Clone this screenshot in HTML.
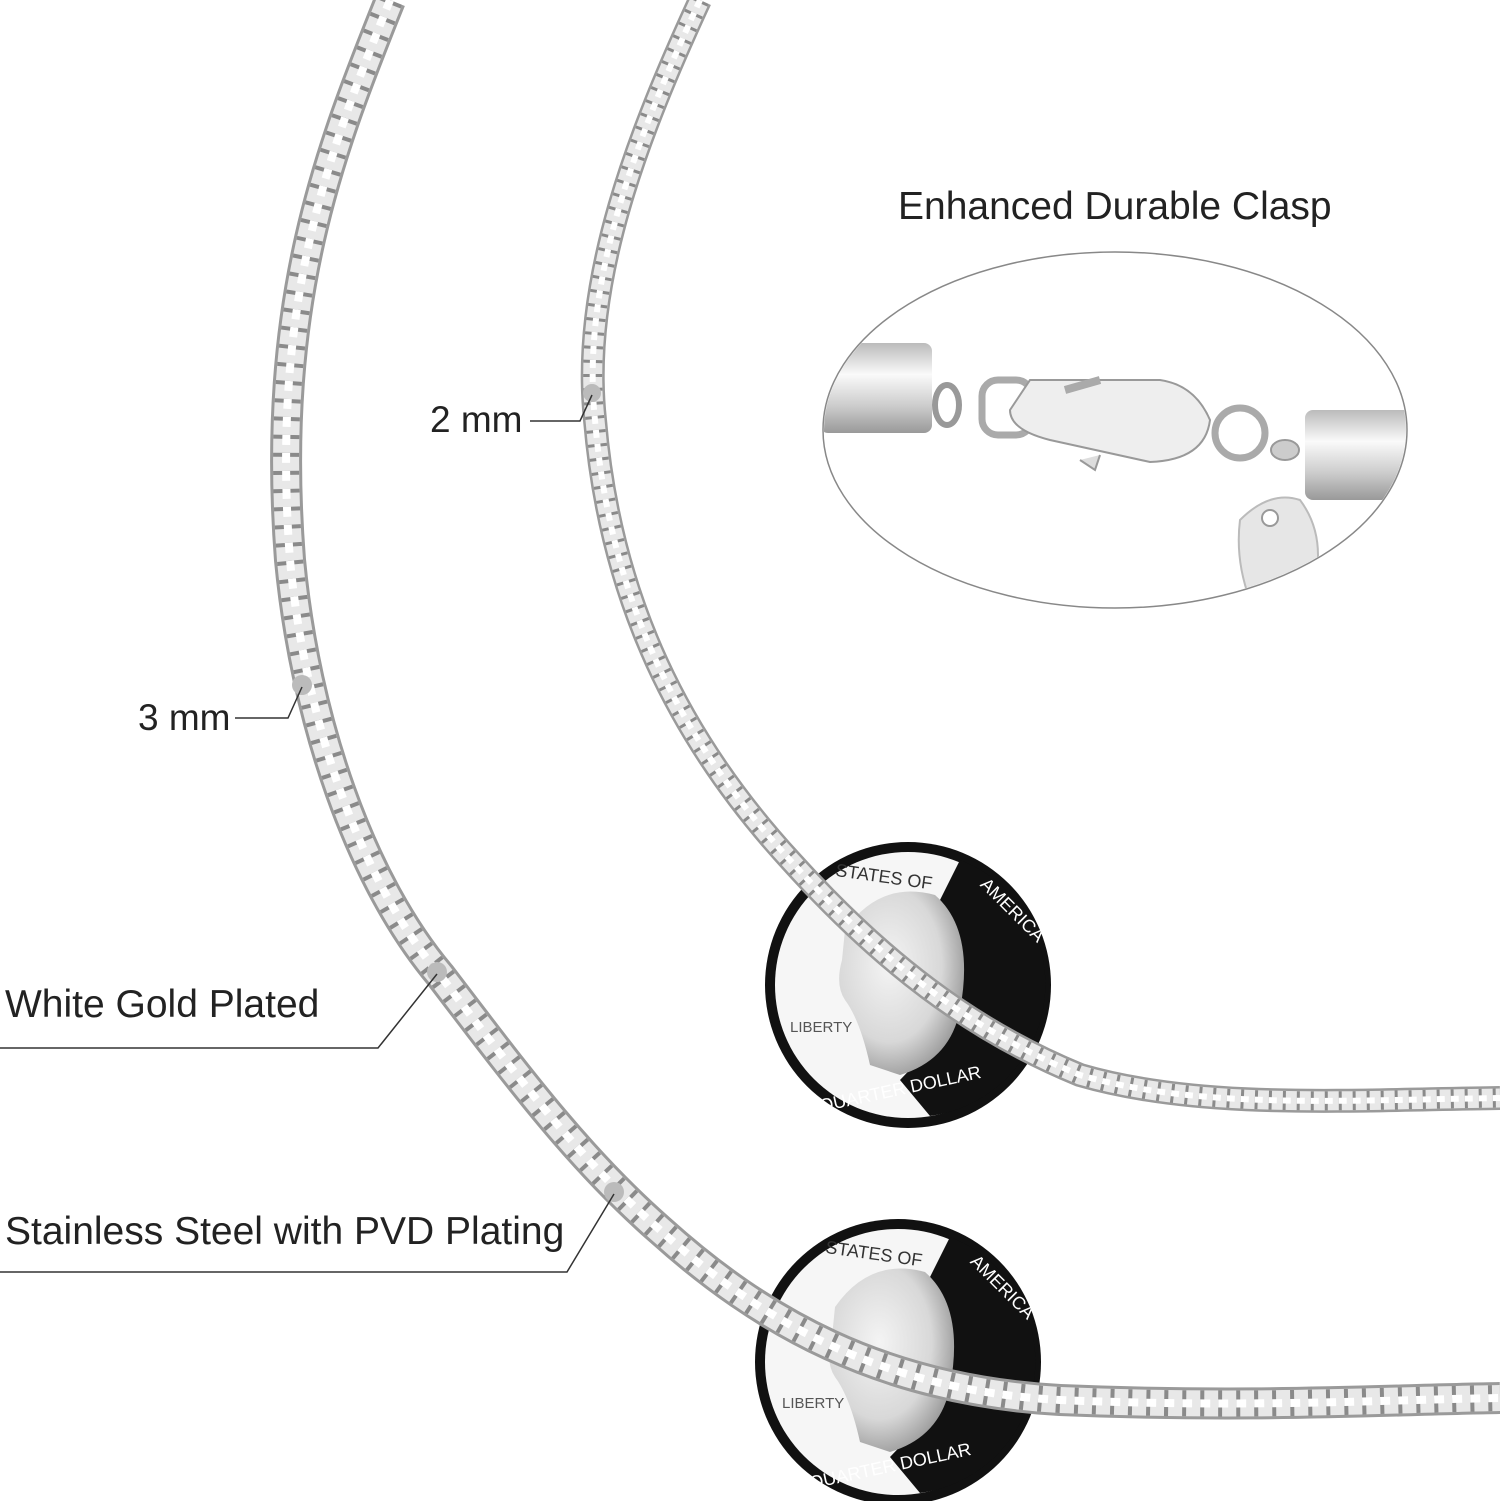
<!DOCTYPE html>
<html><head><meta charset="utf-8"><style>
html,body{margin:0;padding:0;background:#fff;}
svg{display:block;}
text{font-family:"Liberation Sans",sans-serif;fill:#222;}
</style></head><body>
<svg width="1500" height="1501" viewBox="0 0 1500 1501" xmlns="http://www.w3.org/2000/svg">
<defs>
<linearGradient id="cap" x1="0" y1="0" x2="0" y2="1">
<stop offset="0" stop-color="#bbb"/><stop offset="0.35" stop-color="#fafafa"/><stop offset="0.7" stop-color="#ccc"/><stop offset="1" stop-color="#999"/>
</linearGradient>
<radialGradient id="face" cx="0.4" cy="0.4" r="0.7">
<stop offset="0" stop-color="#f4f4f4"/><stop offset="0.6" stop-color="#d8d8d8"/><stop offset="1" stop-color="#888"/>
</radialGradient>
</defs>

<g>
<circle cx="908" cy="985" r="143" fill="#111"/>
<circle cx="908" cy="985" r="133" fill="#f6f6f6"/>
<path d="M960 860 A133 133 0 0 1 930 1116 L900 1080 Q980 1000 940 900 Z" fill="#111"/>
<path d="M845 930 Q880 880 935 895 Q975 930 960 1010 Q950 1060 900 1075 L870 1065 Q860 1020 845 1000 Q835 985 842 960 Z" fill="url(#face)"/>
<text x="790" y="1032" font-size="15" font-family="Liberation Serif" style="fill:#555">LIBERTY</text>
<text x="818" y="1095" font-size="18" font-family="Liberation Serif" style="fill:#fff" transform="rotate(-12 900 1090)">QUARTER DOLLAR</text>
<text x="835" y="885" font-size="18" font-family="Liberation Serif" style="fill:#333" transform="rotate(8 900 880)">STATES OF</text>
<text x="965" y="900" font-size="18" font-family="Liberation Serif" style="fill:#fff" transform="rotate(45 990 910)">AMERICA</text>

<circle cx="898" cy="1362" r="143" fill="#111"/>
<circle cx="898" cy="1362" r="133" fill="#f6f6f6"/>
<path d="M950 1237 A133 133 0 0 1 920 1493 L890 1457 Q970 1377 930 1277 Z" fill="#111"/>
<path d="M835 1307 Q870 1257 925 1272 Q965 1307 950 1387 Q940 1437 890 1452 L860 1442 Q850 1397 835 1377 Q825 1362 832 1337 Z" fill="url(#face)"/>
<text x="782" y="1408" font-size="15" font-family="Liberation Serif" style="fill:#555">LIBERTY</text>
<text x="808" y="1472" font-size="18" font-family="Liberation Serif" style="fill:#fff" transform="rotate(-12 890 1467)">QUARTER DOLLAR</text>
<text x="825" y="1262" font-size="18" font-family="Liberation Serif" style="fill:#333" transform="rotate(8 890 1257)">STATES OF</text>
<text x="955" y="1277" font-size="18" font-family="Liberation Serif" style="fill:#fff" transform="rotate(45 980 1287)">AMERICA</text>
</g>

<g fill="none">
<path d="M390 0 C330 150 270 300 290 560 C305 720 360 880 440 975 C520 1080 580 1160 660 1230 C760 1320 880 1390 1060 1400 C1250 1408 1380 1400 1500 1398" stroke="#9a9a9a" stroke-width="32"/>
<path d="M390 0 C330 150 270 300 290 560 C305 720 360 880 440 975 C520 1080 580 1160 660 1230 C760 1320 880 1390 1060 1400 C1250 1408 1380 1400 1500 1398" stroke="#e8e8e8" stroke-width="26"/>
<path d="M390 0 C330 150 270 300 290 560 C305 720 360 880 440 975 C520 1080 580 1160 660 1230 C760 1320 880 1390 1060 1400 C1250 1408 1380 1400 1500 1398" stroke="#8a8a8a" stroke-width="26" stroke-dasharray="4 14"/>
<path d="M390 0 C330 150 270 300 290 560 C305 720 360 880 440 975 C520 1080 580 1160 660 1230 C760 1320 880 1390 1060 1400 C1250 1408 1380 1400 1500 1398" stroke="#fff" stroke-width="8" stroke-dasharray="10 8"/>
</g>
<g fill="none">
<path d="M700 0 C640 130 580 280 595 420 C610 600 680 740 790 860 C880 960 970 1030 1080 1075 C1200 1110 1350 1100 1500 1098" stroke="#9a9a9a" stroke-width="24"/>
<path d="M700 0 C640 130 580 280 595 420 C610 600 680 740 790 860 C880 960 970 1030 1080 1075 C1200 1110 1350 1100 1500 1098" stroke="#e8e8e8" stroke-width="19"/>
<path d="M700 0 C640 130 580 280 595 420 C610 600 680 740 790 860 C880 960 970 1030 1080 1075 C1200 1110 1350 1100 1500 1098" stroke="#8a8a8a" stroke-width="19" stroke-dasharray="3 11"/>
<path d="M700 0 C640 130 580 280 595 420 C610 600 680 740 790 860 C880 960 970 1030 1080 1075 C1200 1110 1350 1100 1500 1098" stroke="#fff" stroke-width="6" stroke-dasharray="8 6"/>
</g>

<circle cx="592" cy="393" r="9" fill="#bbb"/>
<circle cx="302" cy="685" r="10" fill="#bbb"/>
<circle cx="437" cy="972" r="10" fill="#bbb"/>
<circle cx="614" cy="1192" r="10" fill="#bbb"/>

<g stroke="#333" stroke-width="1.5" fill="none">
<polyline points="530,421 580,421 592,395"/>
<polyline points="235,718 288,718 302,687"/>
<polyline points="0,1048 378,1048 437,974"/>
<polyline points="0,1272 567,1272 614,1194"/>
</g>

<text x="430" y="432" font-size="37">2 mm</text>
<text x="138" y="730" font-size="37">3 mm</text>
<text x="5" y="1017" font-size="39">White Gold Plated</text>
<text x="5" y="1244" font-size="39">Stainless Steel with PVD Plating</text>
<text x="898" y="219" font-size="39">Enhanced Durable Clasp</text>

<ellipse cx="1115" cy="430" rx="292" ry="178" fill="none" stroke="#888" stroke-width="1.5"/>
<g>
<clipPath id="oc"><ellipse cx="1115" cy="430" rx="291" ry="177"/></clipPath>
<g clip-path="url(#oc)">
<rect x="820" y="343" width="112" height="90" rx="8" fill="url(#cap)"/>
<rect x="1305" y="410" width="110" height="90" rx="8" fill="url(#cap)"/>
<ellipse cx="947" cy="405" rx="12" ry="20" fill="none" stroke="#999" stroke-width="6"/>
<rect x="982" y="380" width="50" height="55" rx="16" fill="none" stroke="#aaa" stroke-width="7"/>
<path d="M1030 380 L1160 380 Q1195 385 1210 420 Q1205 460 1150 462 L1050 440 Q1010 430 1010 410 Z" fill="#eee" stroke="#999" stroke-width="2"/>
<path d="M1065 390 L1100 380" stroke="#aaa" stroke-width="8"/>
<path d="M1080 460 L1095 470 L1100 455" fill="#ddd" stroke="#999" stroke-width="2"/>
<circle cx="1240" cy="433" r="25" fill="none" stroke="#aaa" stroke-width="7"/>
<ellipse cx="1285" cy="450" rx="14" ry="10" fill="#ccc" stroke="#999" stroke-width="2"/>
<path d="M1240 520 Q1270 490 1300 500 Q1330 540 1310 600 L1250 600 Q1235 560 1240 520 Z" fill="#e6e6e6" stroke="#bbb" stroke-width="2"/>
<circle cx="1270" cy="518" r="8" fill="#fff" stroke="#999" stroke-width="2"/>
</g>
</g>
</svg>
</body></html>
